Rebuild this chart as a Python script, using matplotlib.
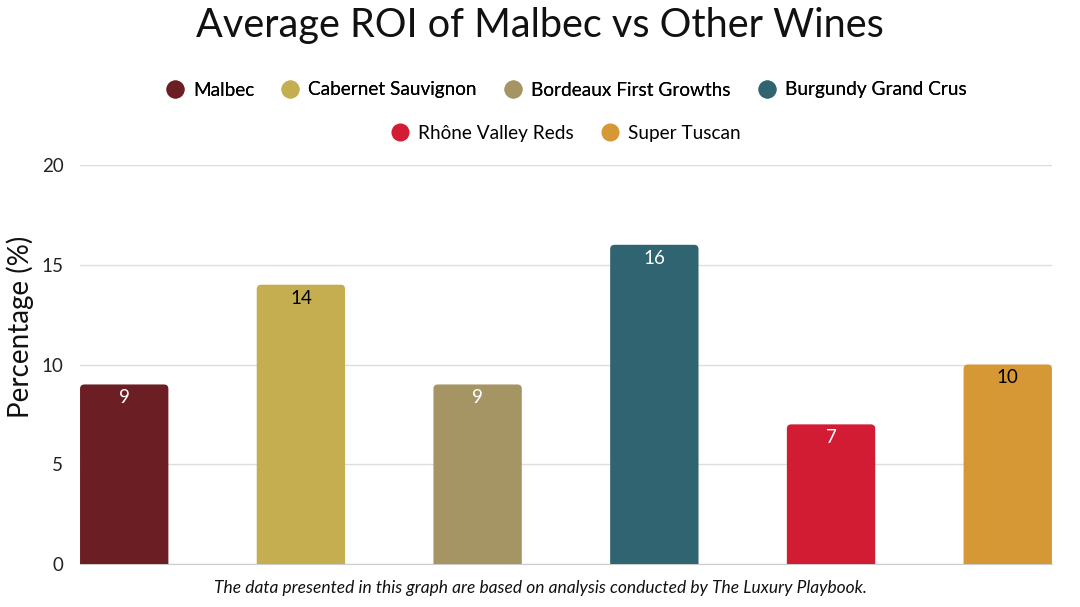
import matplotlib
matplotlib.use("Agg")
import matplotlib.pyplot as plt
from matplotlib.patches import FancyBboxPatch
from matplotlib.lines import Line2D

# data
wines = ["Malbec", "Cabernet Sauvignon", "Bordeaux First Growths",
         "Burgundy Grand Crus", "Rhône Valley Reds", "Super Tuscan"]
roi = [9, 14, 9, 16, 7, 10]
colors = ["#6B1F24", "#C5AE50", "#A69564", "#2F6470", "#D21C33", "#D69735"]
label_colors = ["white", "black", "white", "white", "white", "black"]

plt.rcParams["font.family"] = ["Lato", "DejaVu Sans"]

fig = plt.figure(figsize=(10.8, 6.07), dpi=100)
ax = fig.add_axes([0.0741, 0.0708, 0.8999, 0.6574])

x = list(range(len(wines)))
bars = ax.bar(x, roi, width=0.5, color=colors)

# swap plain bars for round-topped ones (bottom corners hidden below 0)
ax.set_xlim(-0.25, len(wines) - 0.75)
ax.set_ylim(0, 20)
aspect = (972 / 5.5) / (399 / 20)
for b, c in zip(bars, colors):
    b.set_visible(False)
    patch = FancyBboxPatch((b.get_x(), -1), b.get_width(), b.get_height() + 1,
                           boxstyle="round,pad=0,rounding_size=0.025",
                           mutation_aspect=aspect, fc=c, ec="none", zorder=3)
    ax.add_patch(patch)

for xi, v, lc in zip(x, roi, label_colors):
    ax.text(xi, v - 0.25, str(v), ha="center", va="top", fontsize=13.5,
            color=lc, zorder=4)

ax.set_yticks([0, 5, 10, 15, 20])
ax.set_xticks([])
ax.tick_params(axis="y", length=0, pad=12, labelsize=13.5, labelcolor="#222222")
ax.grid(axis="y", color="#dddddd", linewidth=1, zorder=0)
ax.set_axisbelow(True)
for s in ["top", "right", "left"]:
    ax.spines[s].set_visible(False)
ax.spines["bottom"].set_color("#cccccc")
ax.set_ylabel("Percentage (%)", fontsize=20, color="#111111")
ax.yaxis.set_label_coords(-0.047, 0.594)

fig.text(0.5, 1 - 26 / 607, "Average ROI of Malbec vs Other Wines", ha="center",
         va="center", fontsize=28.5, color="#111111")

# legend rows are centred over the plot area, not the figure
leg_x = (80 + 1052) / 2 / 1080
handles = [Line2D([], [], marker="o", linestyle="none", markersize=12,
                  markerfacecolor=c, markeredgecolor=c) for c in colors]
leg_kw = dict(loc="center", frameon=False, fontsize=13.7, handlelength=1.0,
              handletextpad=0.45, columnspacing=1.4)
leg1 = fig.legend(handles[:4], wines[:4], ncol=4,
                  bbox_to_anchor=(leg_x, 1 - 90 / 607), **leg_kw)
fig.add_artist(leg1)
fig.legend(handles[4:], wines[4:], ncol=2,
           bbox_to_anchor=(leg_x, 1 - 133 / 607), **leg_kw)

fig.text(0.5, 1 - 588 / 607,
         "The data presented in this graph are based on analysis conducted by The Luxury Playbook.",
         ha="center", va="center", fontsize=12.5, style="italic", color="#111111")

fig.savefig("out.png", dpi=100)
